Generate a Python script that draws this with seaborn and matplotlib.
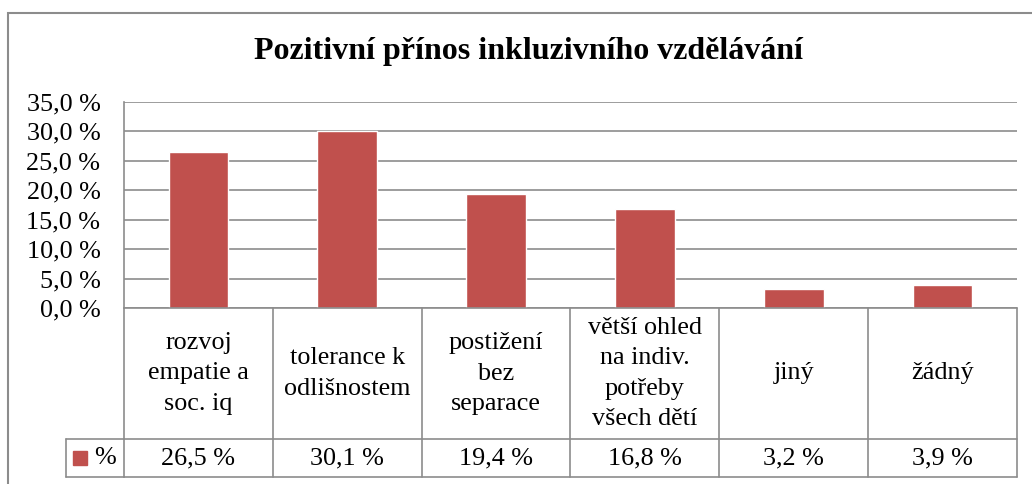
import matplotlib
matplotlib.use("Agg")
import matplotlib.pyplot as plt
import seaborn as sns
import pandas as pd
from matplotlib.patches import Rectangle

categories = ["rozvoj\nempatie a\nsoc. iq", "tolerance k\nodlišnostem", "postižení\nbez\nseparace",
              "větší ohled\nna indiv.\npotřeby\nvšech dětí", "jiný", "žádný"]
values = [26.5, 30.1, 19.4, 16.8, 3.2, 3.9]
series_name = "%"
yticks = [0, 5, 10, 15, 20, 25, 30, 35]
title = "Pozitivní přínos inkluzivního vzdělávání"

sns.set_theme(style="white")
plt.rcParams['font.family'] = ['Liberation Serif', 'DejaVu Serif']
plt.rcParams['text.color'] = 'black'

FS = 18.8
W, H = 1032, 484
fig = plt.figure(figsize=(W / 100, H / 100), dpi=100)
fig.patch.set_facecolor("white")

# outer chart border
fig.patches.append(Rectangle((7.5 / W, 1 - 1.2), 1.2, 1.2 - 12.5 / H, transform=fig.transFigure,
                             fill=False, edgecolor="#8c8c8c", linewidth=1.5))

ax_l, ax_r, ax_t, ax_b = 124, 1017, 102, 308
ax = fig.add_axes([ax_l / W, 1 - ax_b / H, (ax_r - ax_l) / W, (ax_b - ax_t) / H])

df = pd.DataFrame({"cat": categories, "val": values})
sns.barplot(data=df, x="cat", y="val", color="#C0504D", width=0.4, saturation=1, ax=ax)

ax.set_xlim(-0.5, len(categories) - 0.5)
ax.set_ylim(0, 35)
ax.set_yticks(yticks)
ax.set_yticklabels([f"{t:.1f} %".replace(".", ",") for t in yticks], fontsize=FS)
ax.tick_params(axis="y", length=0, pad=17, labelcolor="black")
ax.set_xticks([])
ax.set_xlabel("")
ax.set_ylabel("")
for t in yticks:
    ax.axhline(t, color="#8c8c8c", linewidth=1.2, zorder=0)
for s in ["top", "right", "bottom"]:
    ax.spines[s].set_visible(False)
ax.spines["left"].set_color("#8c8c8c")
ax.spines["left"].set_linewidth(1.2)

fig.text(528 / W, 1 - 51 / H, title, ha="center", va="center",
         fontsize=23, fontweight="bold", color="black")

# data table
ph = ax_b - ax_t
r1 = -(439 - ax_b) / ph
r2 = -(477 - ax_b) / ph
xt = ax.get_xaxis_transform()
lc = "#8c8c8c"
n = len(categories)
# horizontal lines
ax.plot([-0.5, n - 0.5], [r1, r1], transform=xt, color=lc, lw=1.2, clip_on=False)
ax.plot([-0.5, n - 0.5], [r2, r2], transform=xt, color=lc, lw=1.2, clip_on=False)
ax.plot([-0.5, n - 0.5], [0, 0], transform=xt, color=lc, lw=1.2, clip_on=False)
# vertical lines
for i in range(n + 1):
    ax.plot([i - 0.5, i - 0.5], [0, r2], transform=xt, color=lc, lw=1.2, clip_on=False)
# legend cell
leg_l = -(ax_l - 66) / (ax_r - ax_l)
ax.plot([leg_l, 0], [r1, r1], transform=ax.transAxes, color=lc, lw=1.2, clip_on=False)
ax.plot([leg_l, 0], [r2, r2], transform=ax.transAxes, color=lc, lw=1.2, clip_on=False)
ax.plot([leg_l, leg_l], [r1, r2], transform=ax.transAxes, color=lc, lw=1.2, clip_on=False)
ym = (r1 + r2) / 2
ax.plot([leg_l + 0.016], [ym], transform=ax.transAxes, marker="s", markersize=10,
        color="#C0504D", clip_on=False, linestyle="none")
ax.text(leg_l + 0.031, ym, series_name, transform=ax.transAxes, ha="left", va="center",
        fontsize=FS, color="black")

for i, (c, v) in enumerate(zip(categories, values)):
    t = ax.text(i, r1 / 2, c, transform=xt, ha="center", va="center", fontsize=FS,
                color="black")
    t.set_linespacing(1.5)
    ax.text(i, ym, f"{v:.1f} %".replace(".", ","), transform=xt, ha="center",
            va="center", fontsize=FS, color="black")

fig.savefig("out.png", dpi=100)
